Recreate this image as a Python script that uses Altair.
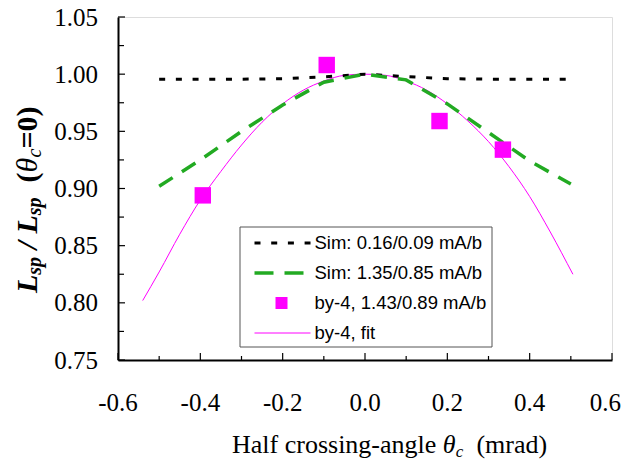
import altair as alt
import pandas as pd

# ---------------- data ----------------
sim_x = [-0.5, -0.4, -0.3, -0.2, -0.1, 0.0, 0.1, 0.2, 0.3, 0.4, 0.5]
sim_low_y = [0.9955, 0.9955, 0.9956, 0.9960, 0.9976, 1.000, 0.9978, 0.9961, 0.9956, 0.9955, 0.9955]
sim_high_y = [0.902, 0.925, 0.950, 0.973, 0.993, 1.000, 0.995, 0.974, 0.949, 0.924, 0.904]
meas_x = [-0.394, -0.093, 0.181, 0.335]
meas_y = [0.894, 1.008, 0.959, 0.934]
fit_x = [-0.54, -0.50, -0.45, -0.40, -0.35, -0.30, -0.25, -0.20, -0.15, -0.10, -0.05, 0.0,
         0.05, 0.10, 0.15, 0.20, 0.25, 0.30, 0.35, 0.40, 0.45, 0.505]
fit_y = [0.802, 0.827, 0.860, 0.890, 0.915, 0.938, 0.958, 0.974, 0.986, 0.994, 0.999, 1.000,
         0.999, 0.994, 0.986, 0.974, 0.959, 0.941, 0.919, 0.893, 0.862, 0.825]
x_major = [-0.6, -0.4, -0.2, 0.0, 0.2, 0.4, 0.6]
x_labels = ["-0.6", "-0.4", "-0.2", "0.0", "0.2", "0.4", "0.6"]
x_minor = [-0.5, -0.3, -0.1, 0.1, 0.3, 0.5]
y_major = [0.75, 0.80, 0.85, 0.90, 0.95, 1.00, 1.05]
y_labels = ["0.75", "0.80", "0.85", "0.90", "0.95", "1.00", "1.05"]
y_minor = [0.775, 0.825, 0.875, 0.925, 0.975, 1.025]
legend_labels = ["Sim: 0.16/0.09 mA/b", "Sim: 1.35/0.85 mA/b", "by-4, 1.43/0.89 mA/b", "by-4, fit"]

# ---------------- styling ----------------
W, H = 494, 343
GREEN = "#22AA22"
MAGENTA = "#FF00FF"
SERIF = "Liberation Serif"
SANS = "Liberation Sans"

xs = alt.Scale(domain=[-0.6, 0.6], nice=False, zero=False)
ys = alt.Scale(domain=[0.75, 1.05], nice=False, zero=False)
xaxis = alt.Axis(values=x_major, title=None, ticks=False, tickSize=0, grid=False, labels=False,
                 domainColor="black", domainWidth=2)
yaxis = alt.Axis(values=y_major, title=None, ticks=False, tickSize=0, grid=False, labels=False,
                 domainColor="black", domainWidth=2)


def X(f):
    return alt.X(f, type="quantitative", scale=xs, axis=xaxis)


def Y(f):
    return alt.Y(f, type="quantitative", scale=ys, axis=yaxis)


one = pd.DataFrame({"k": [0]})

layers = []

# inward ticks
layers.append(alt.Chart(pd.DataFrame({"v": x_major})).mark_rule(color="black", strokeWidth=1.2)
              .encode(x=X("v"), y=alt.value(H), y2=alt.value(H - 7)))
layers.append(alt.Chart(pd.DataFrame({"v": x_minor})).mark_rule(color="black", strokeWidth=1.2)
              .encode(x=X("v"), y=alt.value(H), y2=alt.value(H - 4)))
layers.append(alt.Chart(pd.DataFrame({"v": y_major})).mark_rule(color="black", strokeWidth=1.2)
              .encode(y=Y("v"), x=alt.value(0), x2=alt.value(7)))
layers.append(alt.Chart(pd.DataFrame({"v": y_minor})).mark_rule(color="black", strokeWidth=1.2)
              .encode(y=Y("v"), x=alt.value(0), x2=alt.value(6)))

# tick labels (serif); the last x label is kept inside the page edge
xl = pd.DataFrame({"v": x_major, "t": x_labels})
layers.append(alt.Chart(xl.iloc[:-1])
              .mark_text(align="center", baseline="alphabetic", font=SERIF, fontSize=25,
                         fontWeight="normal", fontStyle="normal", color="black")
              .encode(x=X("v"), y=alt.value(H + 51), text="t:N"))
layers.append(alt.Chart(xl.iloc[-1:])
              .mark_text(align="right", baseline="alphabetic", font=SERIF, fontSize=25,
                         fontWeight="normal", fontStyle="normal", color="black")
              .encode(x=X("v"), xOffset=alt.value(9), y=alt.value(H + 51), text="t:N"))
layers.append(alt.Chart(pd.DataFrame({"v": y_major, "t": y_labels}))
              .mark_text(align="right", baseline="alphabetic", font=SERIF, fontSize=25,
                         fontWeight="normal", fontStyle="normal", color="black")
              .encode(y=Y("v"), x=alt.value(-20), text="t:N", yOffset=alt.value(8.5)))

# series
layers.append(alt.Chart(pd.DataFrame({"x": fit_x, "y": fit_y}))
              .mark_line(color=MAGENTA, strokeWidth=1, interpolate="monotone")
              .encode(x=X("x"), y=Y("y")))
layers.append(alt.Chart(pd.DataFrame({"x": sim_x, "y": sim_low_y}))
              .mark_line(color="black", strokeWidth=3, strokeDash=[6, 10.7])
              .encode(x=X("x"), y=Y("y")))
layers.append(alt.Chart(pd.DataFrame({"x": sim_x, "y": sim_high_y}))
              .mark_line(color=GREEN, strokeWidth=3.5, strokeDash=[16, 11])
              .encode(x=X("x"), y=Y("y")))
layers.append(alt.Chart(pd.DataFrame({"x": meas_x, "y": meas_y}))
              .mark_square(color=MAGENTA, opacity=1, size=270)
              .encode(x=X("x"), y=Y("y")))

# legend (manual)
LX0, LX1, LY0, LY1 = 122, 374, 210, 330
layers.append(alt.Chart(one).mark_rect(fill="white", stroke="#555555", strokeWidth=1)
              .encode(x=alt.value(LX0), x2=alt.value(LX1), y=alt.value(LY0), y2=alt.value(LY1)))
rows = [LY0 + 16 + 30 * i for i in range(4)]
layers.append(alt.Chart(one).mark_rule(color="black", strokeWidth=3, strokeDash=[6, 10.7])
              .encode(x=alt.value(136.5), x2=alt.value(192.5), y=alt.value(rows[0])))
layers.append(alt.Chart(one).mark_rule(color=GREEN, strokeWidth=3.5, strokeDash=[19, 11])
              .encode(x=alt.value(136.5), x2=alt.value(185.5), y=alt.value(rows[1])))
layers.append(alt.Chart(one).mark_square(color=MAGENTA, opacity=1, size=144)
              .encode(x=alt.value(163.5), y=alt.value(rows[2])))
layers.append(alt.Chart(one).mark_rule(color=MAGENTA, strokeWidth=1)
              .encode(x=alt.value(136.5), x2=alt.value(192.5), y=alt.value(rows[3])))
for lab, yp in zip(legend_labels, rows):
    layers.append(alt.Chart(pd.DataFrame({"t": [lab]}))
                  .mark_text(align="left", baseline="middle", font=SANS, fontSize=18.5, color="black")
                  .encode(text="t:N", x=alt.value(196.5), y=alt.value(yp)))


def piece(text, x, y, size, weight="normal", style="normal", angle=0):
    return (alt.Chart(pd.DataFrame({"t": [text]}))
            .mark_text(align="left", baseline="alphabetic", font=SERIF, fontSize=size,
                       fontWeight=weight, fontStyle=style, angle=angle, color="black")
            .encode(text="t:N", x=alt.value(x), y=alt.value(y)))


# y-axis title: L_sp / L_sp  (θ_c=0), rotated, built from pieces (gap = extra space before)
F, S = 30, 20
sp = 0.25 * F
ypieces = [
    ("L", F, "bold", "italic", 0.611 * F, 0, 0),
    ("sp", S, "bold", "italic", 0.889 * S, 4, 0),
    ("/", F, "bold", "italic", 0.278 * F, 0, sp),
    ("L", F, "bold", "italic", 0.611 * F, 0, sp),
    ("sp", S, "bold", "italic", 0.889 * S, 4, 0),
    ("(", F, "bold", "normal", 0.333 * F, 0, 2 * sp),
    ("θ", F, "normal", "italic", 0.5 * F, 0, 0),
    ("c", S, "normal", "italic", 0.444 * S, 4, 0),
    ("=0)", F, "bold", "normal", 1.403 * F, 0, 0),
]
base_x = -81
pos = 276
for t, sz, wt, st, w, sh, gap in ypieces:
    pos -= gap
    layers.append(piece(t, base_x + sh, pos, sz, wt, st, 270))
    pos -= w

# x-axis title: Half crossing-angle θ_c  (mrad)
F2, S2 = 26, 17
xpieces = [
    ("Half crossing-angle", F2, "normal", 7.859 * F2, 0, 0),
    ("θ", F2, "italic", 0.5 * F2, 0, 0.25 * F2),
    ("c", S2, "italic", 0.444 * S2, 4, 0),
    ("(mrad)", F2, "normal", 2.721 * F2, 0, 0.5 * F2),
]
px = 114
base_y = 436
for t, sz, st, w, sh, gap in xpieces:
    px += gap
    layers.append(piece(t, px, base_y + sh, sz, "normal", st, 0))
    px += w

chart = (alt.layer(*layers)
         .properties(width=W, height=H, autosize=alt.AutoSizeParams(type="none"),
                     padding={"left": 110, "top": 9, "right": 10, "bottom": 100})
         .configure_view(stroke="#888888", strokeWidth=1)
         .configure(background="white"))

chart.save("out.html", embed_options={"renderer": "svg", "actions": False})
